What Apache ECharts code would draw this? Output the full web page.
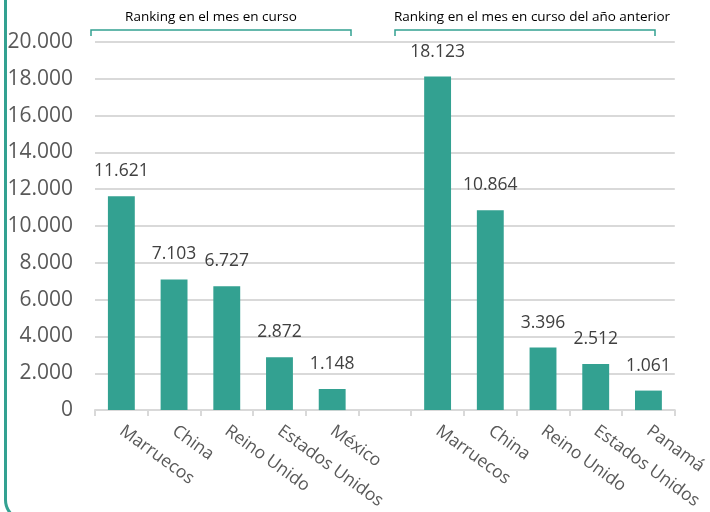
<!DOCTYPE html>
<html>
<head>
<meta charset="utf-8">
<script src="https://cdn.jsdelivr.net/npm/echarts@6/dist/echarts.min.js"></script>
<style>html,body{margin:0;padding:0;background:#fff;}#c{width:710px;height:512px;}</style>
</head>
<body>
<div id="c"></div>
<script>
var categories = ['Marruecos', 'China', 'Reino Unido', 'Estados Unidos', 'México', '', 'Marruecos', 'China', 'Reino Unido', 'Estados Unidos', 'Panamá'];
var values = [11621, 7103, 6727, 2872, 1148, null, 18123, 10864, 3396, 2512, 1061];
var groupLabels = ['Ranking en el mes en curso', 'Ranking en el mes en curso del año anterior'];
var yTicks = { min: 0, max: 20000, interval: 2000 };

function fmt(v) {
  return String(Math.round(v)).replace(/\B(?=(\d{3})+(?!\d))/g, '.');
}
var teal = '#33A191';
var chart = echarts.init(document.getElementById('c'), null, { renderer: 'canvas' });
chart.setOption({
  animation: false,
  backgroundColor: '#fff',
  textStyle: { fontFamily: 'Open Sans' },
  grid: { left: 95, right: 34, top: 42, bottom: 101, containLabel: false },
  xAxis: {
    type: 'category',
    data: categories,
    boundaryGap: true,
    axisLine: { show: true, lineStyle: { color: '#d9d9d9', width: 2 } },
    axisTick: { show: true, length: 6, alignWithLabel: false, lineStyle: { color: '#d9d9d9', width: 2 } },
    axisLabel: { interval: 0, rotate: -36, margin: 19, fontSize: 17.5, color: '#595959', fontFamily: 'Open Sans' }
  },
  yAxis: {
    type: 'value',
    min: yTicks.min, max: yTicks.max, interval: yTicks.interval,
    axisLine: { show: false },
    axisTick: { show: false },
    splitLine: { lineStyle: { color: '#d9d9d9', width: 2 } },
    axisLabel: { margin: 22, fontSize: 21, color: '#595959', fontFamily: 'Open Sans', formatter: fmt }
  },
  series: [{
    type: 'bar',
    data: values,
    barWidth: '51%',
    itemStyle: { color: teal },
    label: {
      show: true, position: 'top', distance: 16, fontSize: 17.5, color: '#404040', fontFamily: 'Open Sans',
      formatter: function (p) { return p.value == null ? '' : fmt(p.value); }
    }
  }],
  graphic: [
    { type: 'rect', silent: true, shape: { x: 5.5, y: -40, width: 1000, height: 560, r: 20 },
      style: { fill: 'none', stroke: teal, lineWidth: 3 } },
    { type: 'polyline', silent: true, shape: { points: [[91, 36], [91, 30], [351, 30], [351, 36]] },
      style: { fill: 'none', stroke: teal, lineWidth: 1.5 } },
    { type: 'polyline', silent: true, shape: { points: [[395, 36], [395, 30], [655, 30], [655, 36]] },
      style: { fill: 'none', stroke: teal, lineWidth: 1.5 } },
    { type: 'text', silent: true, x: 211, y: 17,
      style: { text: groupLabels[0], fontSize: 13.5, fill: '#000', fontFamily: 'Open Sans', align: 'center', verticalAlign: 'middle' } },
    { type: 'text', silent: true, x: 532, y: 17,
      style: { text: groupLabels[1], fontSize: 13.5, fill: '#000', fontFamily: 'Open Sans', align: 'center', verticalAlign: 'middle' } }
  ]
});
</script>
</body>
</html>
